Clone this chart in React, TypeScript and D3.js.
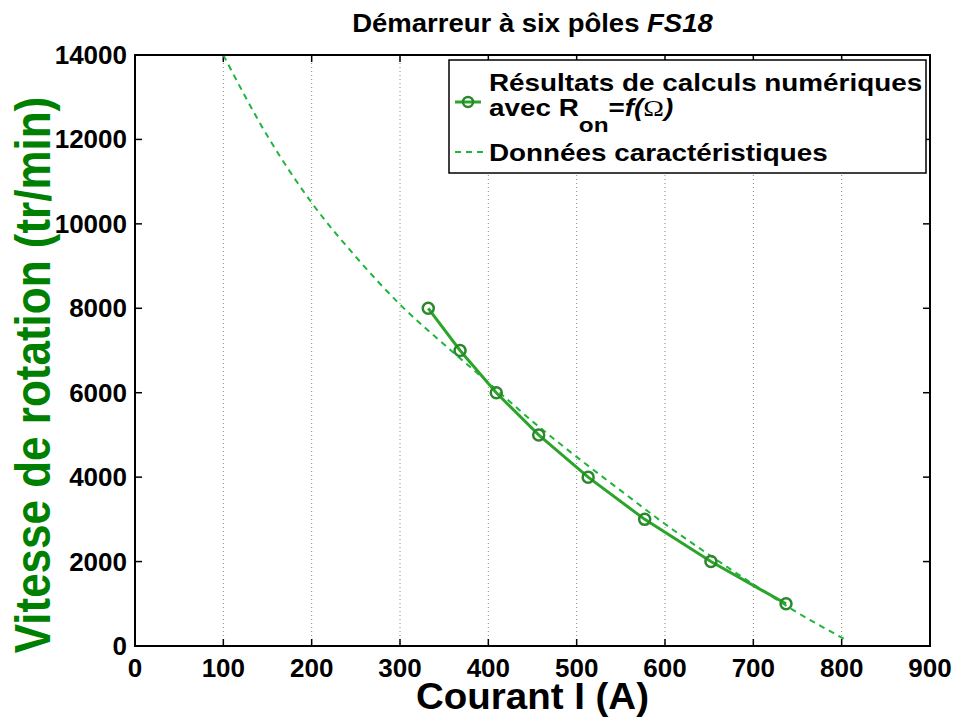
import React from "react";
import * as d3 from "d3";

// ---- data ----
const calcCurrent = [332, 368, 409, 457, 513, 577, 652, 737];
const calcSpeed = [8000, 7000, 6000, 5000, 4000, 3000, 2000, 1000];

const charCurrent = [100, 150, 200, 250, 300, 350, 400, 450, 500, 550, 600, 650, 700, 750, 800, 806];
const charSpeed = [14000, 12080, 10500, 9220, 8090, 7140, 6240, 5320, 4480, 3680, 2890, 2160, 1460, 790, 200, 130];

const xTicks = [0, 100, 200, 300, 400, 500, 600, 700, 800, 900];
const yTicks = [0, 2000, 4000, 6000, 8000, 10000, 12000, 14000];

const titleMain = "Démarreur à six pôles ";
const titleItalic = "FS18";
const xLabel = "Courant I (A)";
const yLabel = "Vitesse de rotation (tr/min)";
const legend1a = "Résultats de calculs numériques";
const legend2 = "Données caractéristiques";

const FONT = "'Liberation Sans', Arial, Helvetica, sans-serif";
const SOLID = "#2aa52a";
const MARKER = "#2b872b";
const DASH = "#1fb53c";

export default function App() {
  const W = 954, H = 717;
  const left = 135, right = 930, top = 55, bottom = 646;
  const x = d3.scaleLinear().domain([0, 900]).range([left, right]);
  const y = d3.scaleLinear().domain([0, 14000]).range([bottom, top]);

  const calcPts = calcCurrent.map((c, i) => [c, calcSpeed[i]] as [number, number]);
  const charPts = charCurrent.map((c, i) => [c, charSpeed[i]] as [number, number]);

  const solidLine = d3.line<[number, number]>().x(d => x(d[0])).y(d => y(d[1]));
  const dashLine = d3
    .line<[number, number]>()
    .x(d => x(d[0]))
    .y(d => y(d[1]))
    .curve(d3.curveMonotoneX);

  const tickLen = 7;

  return (
    <svg width={W} height={H} style={{ position: "absolute", left: 0, top: 0, background: "#fff" }} fontFamily={FONT} fontWeight="bold">
      <rect x={0} y={0} width={W} height={H} fill="#fff" />
      {/* grid */}
      {xTicks.slice(1, -1).map(t => (
        <line key={"g" + t} x1={x(t)} x2={x(t)} y1={top} y2={bottom} stroke="#888" strokeWidth={1} strokeDasharray="1,3" />
      ))}
      {/* ticks */}
      {xTicks.map(t => (
        <g key={"xt" + t}>
          <line x1={x(t)} x2={x(t)} y1={bottom} y2={bottom - tickLen} stroke="#000" strokeWidth={1.5} />
          <line x1={x(t)} x2={x(t)} y1={top} y2={top + tickLen} stroke="#000" strokeWidth={1.5} />
          <text x={x(t)} y={677} textAnchor="middle" fontSize={26} fill="#000">{t}</text>
        </g>
      ))}
      {yTicks.map(t => (
        <g key={"yt" + t}>
          <line x1={left} x2={left + tickLen} y1={y(t)} y2={y(t)} stroke="#000" strokeWidth={1.5} />
          <line x1={right} x2={right - tickLen} y1={y(t)} y2={y(t)} stroke="#000" strokeWidth={1.5} />
          <text x={127} y={y(t) + 9} textAnchor="end" fontSize={26} fill="#000">{t}</text>
        </g>
      ))}
      {/* curves */}
      <path d={dashLine(charPts) || ""} fill="none" stroke={DASH} strokeWidth={2} strokeDasharray="6,5" />
      <path d={solidLine(calcPts) || ""} fill="none" stroke={SOLID} strokeWidth={3} />
      {calcPts.map((p, i) => (
        <circle key={"c" + i} cx={x(p[0])} cy={y(p[1])} r={5.5} fill="none" stroke={MARKER} strokeWidth={2.5} />
      ))}
      {/* axes box */}
      <rect x={left} y={top} width={right - left} height={bottom - top} fill="none" stroke="#000" strokeWidth={2} />

      {/* legend */}
      <rect x={449} y={60} width={477} height={113} fill="#fff" stroke="#000" strokeWidth={1.5} />
      <line x1={455} x2={481} y1={102} y2={102} stroke={SOLID} strokeWidth={3} />
      <circle cx={468} cy={102} r={5} fill="none" stroke={MARKER} strokeWidth={2.5} />
      <line x1={455} x2={483} y1={152} y2={152} stroke={DASH} strokeWidth={2} strokeDasharray="6,5" />
      <g transform="translate(489,91) scale(1.16,1)">
        <text fontSize={24} fill="#000">{legend1a}</text>
      </g>
      <g transform="translate(489,116) scale(1.16,1)">
        <text fontSize={24} fill="#000">
          avec R
          <tspan dy={16} fontSize={21}>on</tspan>
          <tspan dy={-16}>=</tspan>
          <tspan fontStyle="italic">f(</tspan>
          <tspan fontFamily="'Liberation Serif', 'Times New Roman', serif" fontWeight="normal">Ω</tspan>
          <tspan fontStyle="italic">)</tspan>
        </text>
      </g>
      <g transform="translate(489,161) scale(1.16,1)">
        <text fontSize={24} fill="#000">{legend2}</text>
      </g>

      {/* title */}
      <g transform={`translate(${(left + right) / 2},32) scale(1.1,1)`}>
        <text textAnchor="middle" fontSize={25} fill="#000">
          {titleMain}
          <tspan fontStyle="italic">{titleItalic}</tspan>
        </text>
      </g>
      {/* x label */}
      <g transform={`translate(${(left + right) / 2},709) scale(1.04,1)`}>
        <text textAnchor="middle" fontSize={37} fill="#000">{xLabel}</text>
      </g>
      {/* y label */}
      <g transform="translate(50,375) rotate(-90) scale(1,1.15)">
        <text textAnchor="middle" fontSize={44} fill="#008000">{yLabel}</text>
      </g>
    </svg>
  );
}
